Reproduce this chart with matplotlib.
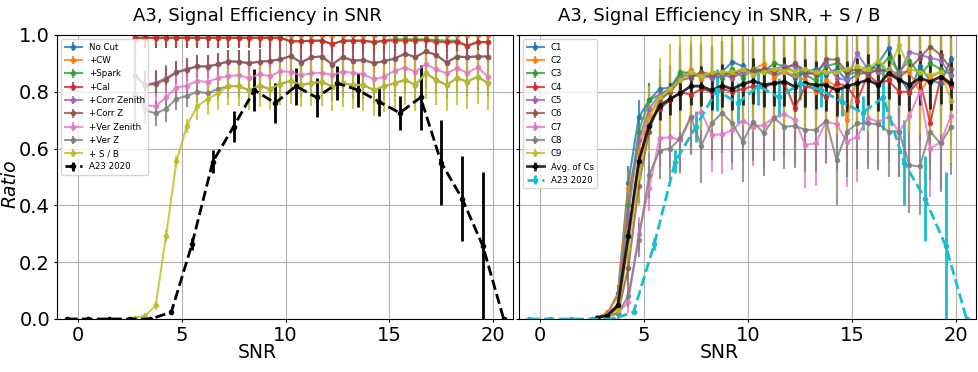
import matplotlib
matplotlib.use('Agg')
import matplotlib.pyplot as plt

# SNR bins
snr = [2.75, 3.25, 3.75, 4.25, 4.75, 5.25, 5.75, 6.25, 6.75, 7.25, 7.75, 8.25,
       8.75, 9.25, 9.75, 10.25, 10.75, 11.25, 11.75, 12.25, 12.75, 13.25, 13.75,
       14.25, 14.75, 15.25, 15.75, 16.25, 16.75, 17.25, 17.75, 18.25, 18.75,
       19.25, 19.75]
snr_a23 = [-0.5, 0.5, 1.5, 2.5, 3.5, 4.5, 5.5, 6.5, 7.5, 8.5, 9.5, 10.5, 11.5,
           12.5, 13.5, 14.5, 15.5, 16.5, 17.5, 18.5, 19.5, 20.5]

# A23 2020 reference
a23 = [0.0, 0.0, 0.0, 0.0, 0.0, 0.024, 0.264, 0.554, 0.677, 0.806, 0.76, 0.82,
       0.78, 0.83, 0.806, 0.765, 0.726, 0.78, 0.55, 0.424, 0.257, 0.0]
a23_err = [0.0, 0.0, 0.0, 0.0, 0.0, 0.008, 0.02, 0.04, 0.055, 0.075, 0.07,
           0.065, 0.068, 0.06, 0.06, 0.05, 0.06, 0.115, 0.15, 0.15, 0.26, 0.0]

# left panel: cumulative cuts
no_cut = [1.0] * 35
cw = [1.0] * 35
cal = [0.99, 0.99, 0.99, 0.99, 0.99, 0.99, 0.99, 0.99, 0.99, 0.99, 0.99, 0.99,
       0.99, 0.99, 0.99, 0.978, 0.978, 0.98, 0.98, 0.968, 0.98, 0.98, 0.98,
       0.975, 0.98, 0.98, 0.98, 0.98, 0.982, 0.975, 0.975, 0.975, 0.962,
       0.975, 0.975]
spark = [0.99, 0.99, 0.99, 0.99, 0.99, 0.99, 0.99, 0.99, 0.99, 0.99, 0.99,
         0.99, 0.99, 0.99, 0.99, 0.978, 0.978, 0.98, 0.98, 0.968, 0.98, 0.98,
         0.98, 0.975, 0.98, 0.985, 0.985, 0.985, 0.985, 0.982, 0.98, 0.98,
         0.962, 0.975, 0.975]
corr_z = [0.856, 0.823, 0.828, 0.843, 0.868, 0.878, 0.890, 0.888, 0.897,
          0.906, 0.906, 0.900, 0.906, 0.908, 0.914, 0.926, 0.902, 0.922, 0.924,
          0.896, 0.922, 0.910, 0.912, 0.900, 0.908, 0.916, 0.934, 0.922, 0.942,
          0.930, 0.902, 0.924, 0.922, 0.924, 0.924]
corr_zenith = [0.856, 0.825, 0.832, 0.848, 0.870, 0.880, 0.890, 0.890, 0.897,
               0.908, 0.906, 0.902, 0.906, 0.910, 0.914, 0.926, 0.904, 0.922,
               0.924, 0.898, 0.922, 0.910, 0.912, 0.902, 0.908, 0.918, 0.934,
               0.922, 0.942, 0.930, 0.904, 0.924, 0.922, 0.926, 0.924]
ver_zenith = [0.79, 0.752, 0.750, 0.780, 0.815, 0.822, 0.838, 0.835, 0.848,
              0.856, 0.858, 0.848, 0.862, 0.855, 0.872, 0.870, 0.858, 0.865,
              0.867, 0.859, 0.871, 0.867, 0.862, 0.844, 0.853, 0.874, 0.885,
              0.871, 0.897, 0.879, 0.865, 0.883, 0.867, 0.886, 0.853]
sb = [0.005, 0.012, 0.048, 0.292, 0.555, 0.680, 0.750, 0.775, 0.795, 0.820,
      0.820, 0.805, 0.822, 0.810, 0.828, 0.838, 0.825, 0.830, 0.836, 0.818,
      0.830, 0.824, 0.824, 0.806, 0.820, 0.830, 0.842, 0.824, 0.865, 0.842,
      0.824, 0.848, 0.836, 0.853, 0.830]
ver_z = [0.790, 0.735, 0.724, 0.740, 0.776, 0.785, 0.800, 0.795, 0.810, 0.820,
         0.820, 0.805, 0.822, 0.810, 0.828, 0.838, 0.825, 0.830, 0.836, 0.818,
         0.830, 0.824, 0.824, 0.806, 0.820, 0.830, 0.842, 0.824, 0.865, 0.842,
         0.824, 0.848, 0.836, 0.853, 0.830]

top_err = [0.0] * 35
cal_err = [0.05, 0.035, 0.035, 0.035, 0.035, 0.035, 0.035, 0.035, 0.035, 0.035,
           0.035, 0.035, 0.035, 0.035, 0.035, 0.035, 0.035, 0.035, 0.035,
           0.035, 0.035, 0.035, 0.035, 0.035, 0.035, 0.035, 0.035, 0.035,
           0.035, 0.035, 0.035, 0.035, 0.035, 0.035, 0.035]
cut_err = [0.10, 0.05, 0.045, 0.045, 0.04, 0.04, 0.04, 0.04, 0.04, 0.04, 0.04,
           0.045, 0.045, 0.045, 0.045, 0.045, 0.045, 0.05, 0.05, 0.05, 0.05,
           0.05, 0.05, 0.05, 0.05, 0.05, 0.05, 0.05, 0.05, 0.05, 0.05, 0.05,
           0.05, 0.05, 0.05]
sb_err = [0.005, 0.01, 0.015, 0.02, 0.02, 0.025, 0.05, 0.055, 0.06, 0.065,
          0.07, 0.07, 0.075, 0.075, 0.075, 0.08, 0.08, 0.08, 0.085, 0.085,
          0.085, 0.085, 0.09, 0.09, 0.09, 0.09, 0.09, 0.09, 0.09, 0.09, 0.09,
          0.095, 0.095, 0.095, 0.095]

# right panel: individual S/B cuts
c1 = [0.005, 0.02, 0.09, 0.48, 0.71, 0.77, 0.81, 0.815, 0.86, 0.855, 0.86,
      0.85, 0.87, 0.905, 0.89, 0.86, 0.875, 0.86, 0.87, 0.85, 0.87, 0.88, 0.86,
      0.88, 0.84, 0.86, 0.87, 0.90, 0.955, 0.86, 0.795, 0.89, 0.84, 0.83, 0.914]
c2 = [0.005, 0.02, 0.08, 0.46, 0.60, 0.72, 0.78, 0.80, 0.85, 0.877, 0.845,
      0.86, 0.865, 0.85, 0.87, 0.88, 0.897, 0.85, 0.87, 0.86, 0.84, 0.80, 0.84,
      0.82, 0.70, 0.86, 0.88, 0.87, 0.85, 0.87, 0.87, 0.80, 0.85, 0.87, 0.82]
c3 = [0.005, 0.015, 0.05, 0.40, 0.66, 0.77, 0.79, 0.81, 0.87, 0.865, 0.86,
      0.855, 0.85, 0.88, 0.85, 0.88, 0.87, 0.90, 0.89, 0.87, 0.86, 0.84, 0.89,
      0.90, 0.86, 0.87, 0.89, 0.88, 0.92, 0.87, 0.91, 0.86, 0.90, 0.88, 0.86]
c4 = [0.005, 0.01, 0.04, 0.30, 0.55, 0.70, 0.74, 0.77, 0.80, 0.789, 0.81,
      0.80, 0.81, 0.80, 0.81, 0.82, 0.815, 0.83, 0.83, 0.742, 0.82, 0.81, 0.78,
      0.83, 0.82, 0.769, 0.86, 0.83, 0.84, 0.80, 0.80, 0.84, 0.689, 0.85, 0.82]
c5 = [0.005, 0.015, 0.05, 0.37, 0.63, 0.74, 0.79, 0.81, 0.85, 0.86, 0.86,
      0.85, 0.86, 0.85, 0.87, 0.87, 0.88, 0.88, 0.89, 0.89, 0.86, 0.87, 0.90,
      0.85, 0.84, 0.935, 0.88, 0.87, 0.88, 0.86, 0.94, 0.93, 0.92, 0.91, 0.86]
c6 = [0.005, 0.01, 0.02, 0.18, 0.47, 0.66, 0.77, 0.80, 0.84, 0.85, 0.87, 0.86,
      0.87, 0.86, 0.88, 0.87, 0.88, 0.87, 0.88, 0.90, 0.87, 0.86, 0.914, 0.914,
      0.87, 0.88, 0.86, 0.88, 0.87, 0.85, 0.88, 0.92, 0.959, 0.93, 0.88]
c7 = [0.005, 0.01, 0.02, 0.06, 0.30, 0.46, 0.636, 0.64, 0.63, 0.707, 0.73,
      0.648, 0.65, 0.666, 0.698, 0.677, 0.683, 0.71, 0.722, 0.70, 0.613, 0.619,
      0.695, 0.686, 0.624, 0.642, 0.707, 0.695, 0.712, 0.66, 0.714, 0.80,
      0.599, 0.624, 0.714]
c8 = [0.005, 0.01, 0.02, 0.081, 0.278, 0.507, 0.593, 0.60, 0.636, 0.712, 0.61,
      0.689, 0.726, 0.689, 0.624, 0.695, 0.654, 0.707, 0.677, 0.68, 0.666,
      0.666, 0.698, 0.56, 0.66, 0.689, 0.689, 0.686, 0.66, 0.66, 0.542, 0.537,
      0.66, 0.618, 0.677]
c9 = [0.005, 0.01, 0.03, 0.25, 0.50, 0.70, 0.78, 0.81, 0.84, 0.87, 0.855,
      0.87, 0.87, 0.87, 0.88, 0.86, 0.87, 0.88, 0.875, 0.875, 0.88, 0.87, 0.87,
      0.87, 0.88, 0.89, 0.88, 0.91, 0.87, 0.965, 0.88, 0.87, 0.86, 0.87, 0.769]
avg_cs = sb

c_err = [0.005, 0.01, 0.03, 0.06, 0.06, 0.06, 0.07, 0.08, 0.09, 0.10, 0.10,
         0.10, 0.11, 0.11, 0.11, 0.11, 0.12, 0.12, 0.12, 0.12, 0.12, 0.12,
         0.13, 0.13, 0.13, 0.13, 0.13, 0.13, 0.14, 0.14, 0.14, 0.14, 0.14,
         0.14, 0.14]
c78_err = [0.005, 0.01, 0.02, 0.04, 0.06, 0.08, 0.10, 0.11, 0.12, 0.13, 0.13,
           0.13, 0.14, 0.14, 0.14, 0.14, 0.15, 0.15, 0.15, 0.15, 0.15, 0.15,
           0.15, 0.16, 0.16, 0.16, 0.16, 0.16, 0.16, 0.16, 0.17, 0.17, 0.17,
           0.17, 0.17]
c9_err = [0.005, 0.01, 0.03, 0.08, 0.10, 0.12, 0.14, 0.16, 0.18, 0.19, 0.19,
          0.20, 0.20, 0.20, 0.20, 0.20, 0.21, 0.21, 0.21, 0.21, 0.21, 0.21,
          0.22, 0.22, 0.22, 0.22, 0.22, 0.22, 0.22, 0.22, 0.22, 0.22, 0.22,
          0.22, 0.22]

left_series = [
    ("No Cut", no_cut, top_err, "tab:blue"),
    ("+CW", cw, top_err, "tab:orange"),
    ("+Spark", spark, cal_err, "tab:green"),
    ("+Cal", cal, cal_err, "tab:red"),
    ("+Corr Zenith", corr_zenith, cut_err, "tab:purple"),
    ("+Corr Z", corr_z, cut_err, "tab:brown"),
    ("+Ver Zenith", ver_zenith, cut_err, "tab:pink"),
    ("+Ver Z", ver_z, cut_err, "tab:gray"),
    ("+ S / B", sb, sb_err, "tab:olive"),
]
right_series = [
    ("C1", c1, c_err, "tab:blue"),
    ("C2", c2, c_err, "tab:orange"),
    ("C3", c3, c_err, "tab:green"),
    ("C4", c4, c_err, "tab:red"),
    ("C5", c5, c_err, "tab:purple"),
    ("C6", c6, c_err, "tab:brown"),
    ("C7", c7, c78_err, "tab:pink"),
    ("C8", c8, c78_err, "tab:gray"),
    ("C9", c9, c9_err, "tab:olive"),
]

fig = plt.figure(figsize=(9.79, 3.72), dpi=100)
ax1 = fig.add_axes([57 / 979, 53 / 372, 456 / 979, 284 / 372])
ax2 = fig.add_axes([519 / 979, 53 / 372, 457 / 979, 284 / 372], sharey=ax1)

for label, y, e, c in left_series:
    ax1.errorbar(snr, y, yerr=e, marker='o', ms=3, color=c, alpha=0.8,
                 label=label)
ax1.errorbar(snr_a23, a23, yerr=a23_err, marker='o', ms=3, color='black',
             ls='--', lw=2, elinewidth=2, label="A23 2020")

for label, y, e, c in right_series:
    ax2.errorbar(snr, y, yerr=e, marker='o', ms=3, color=c, alpha=0.8,
                 label=label)
ax2.errorbar(snr, avg_cs, yerr=sb_err, marker='o', ms=3, color='black',
             alpha=0.8, lw=2, label="Avg. of Cs")
ax2.errorbar(snr_a23, a23, yerr=a23_err, marker='o', ms=3, color='tab:cyan',
             ls='--', lw=2, elinewidth=2, label="A23 2020")

ax1.set_title("A3, Signal Efficiency in SNR", fontsize=13, x=0.439, pad=10)
ax2.set_title("A3, Signal Efficiency in SNR, + S / B", fontsize=13, x=0.439,
              pad=10)
ax1.set_ylabel("Ratio", fontsize=13.5, style='italic')
ax1.yaxis.set_label_coords(-0.083, 0.475)
for ax in (ax1, ax2):
    ax.set_xlim(-1.0, 20.95)
    ax.set_ylim(0, 1)
    ax.set_xlabel("SNR", fontsize=13.5)
    ax.xaxis.set_label_coords(0.439, -0.085)
    ax.tick_params(labelsize=14, length=2.5, pad=2.5)
    ax.grid(True)
    ax.legend(loc='upper left', fontsize=6.2)
ax2.tick_params(labelleft=False)

plt.savefig("out.png", dpi=100)
